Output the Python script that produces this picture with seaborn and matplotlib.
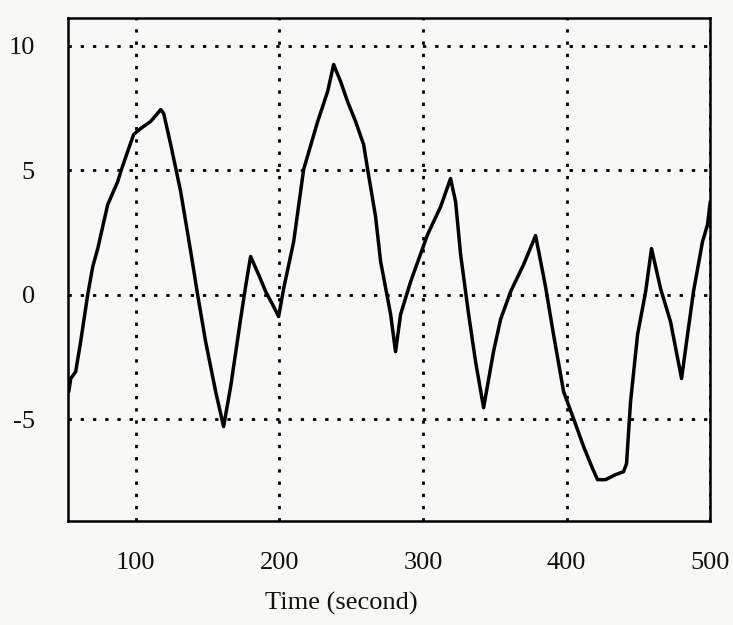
import matplotlib
matplotlib.use('Agg')
import matplotlib.pyplot as plt
import seaborn as sns
import pandas as pd

# values
time_s = [53.4, 54.8, 58.2, 61.7, 66.6, 70.1, 73.6, 80.5, 87.5, 89.6, 95.1, 98.6,
          103.5, 110.4, 114.6, 117.4, 119.5, 124.4, 131.3, 138.3, 143.1, 148.7,
          155.7, 161.2, 166.1, 173.1, 176.5, 180.0, 185.6, 190.5, 195.3, 199.5,
          203.0, 210.0, 216.9, 226.7, 233.6, 237.8, 242.7, 247.5, 253.1, 258.7,
          261.5, 267.0, 270.5, 277.5, 280.9, 284.4, 291.4, 299.7, 303.2, 312.3,
          319.2, 322.7, 326.2, 331.8, 336.6, 342.2, 349.1, 354.0, 361.0, 370.0,
          378.4, 385.3, 390.9, 397.9, 404.8, 411.8, 418.1, 421.5, 427.1, 434.0,
          439.6, 441.7, 444.5, 449.4, 455.0, 459.1, 465.4, 472.3, 480.0, 484.2,
          488.3, 494.6, 498.1, 500.0]
value = [-3.9, -3.37, -3.1, -1.89, 0.0, 1.12, 1.85, 3.61, 4.54, 4.94, 5.86, 6.43,
         6.67, 6.95, 7.23, 7.43, 7.27, 6.02, 4.14, 1.73, 0.0, -1.89,
         -3.9, -5.3, -3.7, -0.96, 0.32, 1.53, 0.8, 0.12, -0.4, -0.88,
         0.24, 2.13, 5.02, 6.95, 8.15, 9.24, 8.55, 7.75, 6.95, 6.02,
         5.02, 3.13, 1.33, -0.8, -2.29, -0.8, 0.52, 1.85, 2.41, 3.53,
         4.66, 3.73, 1.61, -0.8, -2.69, -4.54, -2.29, -1.0, 0.12, 1.2,
         2.37, 0.32, -1.61, -3.9, -4.98, -6.1, -6.99, -7.43, -7.43, -7.23,
         -7.11, -6.79, -4.3, -1.6, 0.12, 1.85, 0.24, -1.08, -3.37, -1.6,
         0.12, 2.13, 2.81, 3.73]
x_ticks = [100, 200, 300, 400, 500]
y_ticks = [-5, 0, 5, 10]

df = pd.DataFrame({"Time": time_s, "Value": value})

sns.set_theme(style="white")
plt.rcParams['font.family'] = ['Liberation Serif', 'DejaVu Serif']
plt.rcParams['axes.unicode_minus'] = False  # scan uses a plain hyphen

bg = '#f8f8f6'
fig = plt.figure(figsize=(7.33, 6.25), dpi=100, facecolor=bg)
ax = fig.add_axes([0.093, 0.166, 0.876, 0.805], facecolor=bg)

sns.lineplot(data=df, x="Time", y="Value", ax=ax, color='black', linewidth=2.5, sort=False)

ax.set_xlim(53, 500)
ax.set_ylim(-9.1, 11.1)
ax.set_xticks(x_ticks)
ax.set_yticks(y_ticks)
ax.grid(True, color='black', linestyle=(0, (1.2, 3.2)), linewidth=2.0)
for s in ax.spines.values():
    s.set_color('black')
    s.set_linewidth(1.8)
ax.tick_params(axis='both', length=0, labelsize=19, colors='#111111')
ax.tick_params(axis='x', pad=22)
ax.tick_params(axis='y', pad=24)
ax.set_ylabel('')
ax.set_xlabel('Time (second)', fontsize=19, color='#111111', labelpad=12)
ax.xaxis.set_label_coords(0.425, -0.14)

plt.savefig('out.png', dpi=100, facecolor=bg)
plt.close()
